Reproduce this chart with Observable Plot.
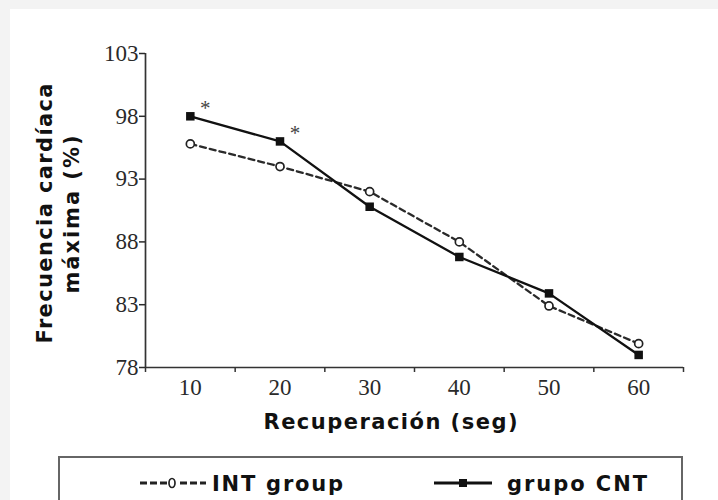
<!DOCTYPE html>
<html>
<head>
<meta charset="utf-8">
<script src="https://cdn.jsdelivr.net/npm/d3@7"></script>
<script src="https://cdn.jsdelivr.net/npm/@observablehq/plot@0.6"></script>
<style>
  html, body { margin: 0; padding: 0; }
  body { background: #f3f3f3; width: 718px; height: 500px; overflow: hidden; position: relative; font-family: "DejaVu Sans", sans-serif; }
  #panel { position: absolute; left: 10px; top: 9px; width: 708px; height: 491px; background: #fff; overflow: hidden; }
  #chart { position: absolute; left: 0; top: 0; }
  #legend { position: absolute; left: 48px; top: 447px; width: 621px; height: 80px; border: 2px solid #666; background: #fff; }
  #legend svg { position: absolute; left: 0; top: 0; }
</style>
</head>
<body>
<div id="panel">
  <div id="chart"></div>
  <div id="legend"></div>
</div>
<script>
// ---- data ----
const seconds = [10, 20, 30, 40, 50, 60];
const intGroup = [95.8, 94.0, 92.0, 88.0, 82.9, 79.9];
const cntGroup = [98.0, 96.0, 90.8, 86.8, 83.9, 79.0];
const significance = ["*", "*", "", "", "", ""];
const yTicks = [78, 83, 88, 93, 98, 103];
const xBandEdges = [5, 15, 25, 35, 45, 55, 65];
const seriesNames = ["INT group", "grupo CNT"];
const yLabelLines = ["Frecuencia cardíaca", "máxima (%)"];
const xLabel = "Recuperación (seg)";

const intData = seconds.map((s, i) => ({s, v: intGroup[i]}));
const cntData = seconds.map((s, i) => ({s, v: cntGroup[i], sig: significance[i]}));

const serif = "Liberation Serif, Times New Roman, serif";
const sans = "DejaVu Sans, Verdana, sans-serif";

const plot = Plot.plot({
  width: 708,
  height: 440,
  marginLeft: 135,
  marginRight: 35,
  marginTop: 44,
  marginBottom: 82,
  x: {type: "linear", domain: [5, 65]},
  y: {domain: [78, 103]},
  style: {background: "transparent", overflow: "visible"},
  marks: [
    Plot.ruleX([5], {y1: 78, y2: 103, stroke: "#333", strokeWidth: 1.7}),
    Plot.ruleY([78], {x1: 5, x2: 65, stroke: "#333", strokeWidth: 1.7}),
    Plot.axisY({ticks: yTicks, tickSize: 6, tickPadding: 1, fontSize: 23, fontFamily: serif, color: "#2a2a2a", strokeWidth: 1.5, label: null}),
    Plot.axisX({ticks: xBandEdges, tickSize: 5, tickFormat: () => "", color: "#333", strokeWidth: 1.5, label: null}),
    Plot.axisX({ticks: seconds, tickSize: 0, tickPadding: 11, fontSize: 23, fontFamily: serif, color: "#2a2a2a", label: null}),
    Plot.line(intData, {x: "s", y: "v", stroke: "#2a2a2a", strokeWidth: 2.3, strokeDasharray: "6,4"}),
    Plot.line(cntData, {x: "s", y: "v", stroke: "#111", strokeWidth: 2.3}),
    Plot.dot(intData, {x: "s", y: "v", r: 4, fill: "white", stroke: "#222", strokeWidth: 1.7}),
    Plot.dot(cntData, {x: "s", y: "v", symbol: "square", r: 4.8, fill: "#111"}),
    Plot.text(cntData, {x: "s", y: "v", text: "sig", dx: 15, dy: -8, fontSize: 21, fontFamily: serif, fill: "#444"}),
    Plot.text([yLabelLines[0]], {text: d => d, frameAnchor: "left", textAnchor: "middle", lineAnchor: "middle", rotate: -90, dx: -100, dy: 3, fontSize: 21, fontWeight: "bold", fontFamily: sans, fill: "#111"}),
    Plot.text([yLabelLines[1]], {text: d => d, frameAnchor: "left", textAnchor: "middle", lineAnchor: "middle", rotate: -90, dx: -73, dy: 4, fontSize: 21, fontWeight: "bold", fontFamily: sans, fill: "#111"}),
    Plot.text([xLabel], {text: d => d, frameAnchor: "bottom", textAnchor: "middle", lineAnchor: "middle", dx: -24, dy: 55, fontSize: 21, fontWeight: "bold", fontFamily: sans, fill: "#111"})
  ]
});
document.getElementById("chart").appendChild(plot);

// stretch labels to the reference's letter-spaced widths
const widths = new Map([[yLabelLines[0], 260], [yLabelLines[1], 158], [xLabel, 254]]);
d3.select(plot).selectAll("text").each(function () {
  const w = widths.get(this.textContent);
  if (w) d3.select(this).attr("textLength", w).attr("lengthAdjust", "spacing");
});

// ---- legend ----
const lg = d3.select("#legend").append("svg").attr("width", 621).attr("height", 80);
// INT group
lg.append("line").attr("x1", 80).attr("x2", 146).attr("y1", 25).attr("y2", 25)
  .attr("stroke", "#222").attr("stroke-width", 3.2).attr("stroke-dasharray", "7,3");
lg.append("rect").attr("x", 107).attr("y", 18).attr("width", 10).attr("height", 14).attr("fill", "#fff");
lg.append("ellipse").attr("cx", 112).attr("cy", 25).attr("rx", 3).attr("ry", 4.5)
  .attr("fill", "#fff").attr("stroke", "#222").attr("stroke-width", 1.7);
lg.append("text").attr("x", 152).attr("y", 25).attr("dy", "0.36em")
  .attr("font-family", sans).attr("font-weight", "bold").attr("font-size", 21).attr("fill", "#111")
  .attr("textLength", 131).attr("lengthAdjust", "spacing").text(seriesNames[0]);
// grupo CNT
lg.append("line").attr("x1", 374).attr("x2", 432).attr("y1", 25).attr("y2", 25)
  .attr("stroke", "#111").attr("stroke-width", 3.2);
lg.append("rect").attr("x", 399).attr("y", 21).attr("width", 8).attr("height", 8).attr("fill", "#111");
lg.append("text").attr("x", 447).attr("y", 25).attr("dy", "0.36em")
  .attr("font-family", sans).attr("font-weight", "bold").attr("font-size", 21).attr("fill", "#111")
  .attr("textLength", 140).attr("lengthAdjust", "spacing").text(seriesNames[1]);
</script>
</body>
</html>
